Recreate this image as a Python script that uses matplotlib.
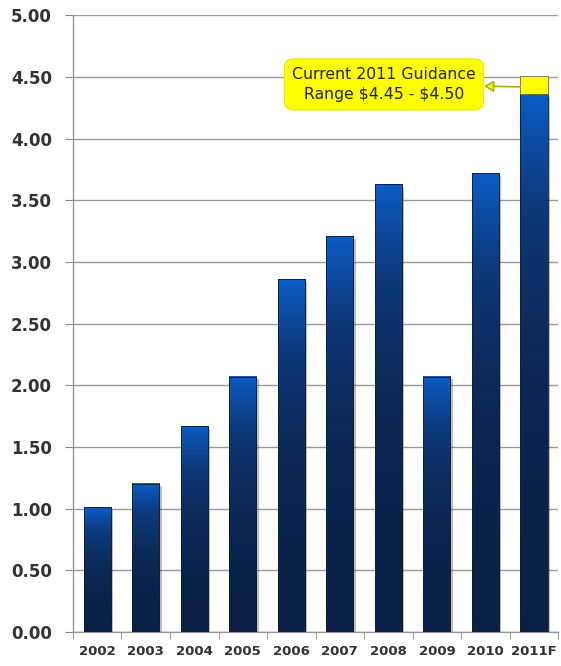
import numpy as np
import matplotlib
matplotlib.use("Agg")
import matplotlib.pyplot as plt
from matplotlib.colors import LinearSegmentedColormap

years = ["2002", "2003", "2004", "2005", "2006", "2007", "2008", "2009", "2010", "2011F"]
eps = [1.01, 1.20, 1.67, 2.07, 2.86, 3.21, 3.63, 2.07, 3.72, 4.36]
guidance_top = 4.51
y_ticks = [0.0, 0.5, 1.0, 1.5, 2.0, 2.5, 3.0, 3.5, 4.0, 4.5, 5.0]
note = "Current 2011 Guidance\nRange \\$4.45 - \\$4.50"

fig = plt.figure(figsize=(5.61, 6.66), dpi=100)
ax = fig.add_axes([0.130, 0.051, 0.865, 0.926])

grad = LinearSegmentedColormap.from_list(
    "bar", ["#0a2046", "#0b2a58", "#0d3a7c", "#0a5cc4"])
g = np.linspace(0, 1, 256).reshape(-1, 1) ** 1.8

w = 0.56
x = np.arange(len(years))
for xi, v in zip(x, eps):
    # drop shadow
    ax.bar(xi + 0.05, v, width=w, bottom=-0.02, color="#000000", alpha=0.25, zorder=2)
    ax.imshow(g, cmap=grad, origin="lower", aspect="auto",
              extent=[xi - w / 2, xi + w / 2, 0, v], zorder=3)
    ax.bar(xi, v, width=w, color="none", edgecolor="#0a1d3c", linewidth=0.6, zorder=4)

ax.bar(x[-1], guidance_top - eps[-1], bottom=eps[-1], width=w, color="#ffff00",
       edgecolor="#666666", linewidth=0.6, zorder=4)

ax.annotate(note, xy=(x[-1] - w / 2, 4.42), xytext=(5.91, 4.44),
            ha="center", va="center", fontsize=11.3, color="#222222",
            linespacing=1.45,
            bbox=dict(boxstyle="round,pad=0.5,rounding_size=0.6", fc="#ffff00",
                      ec="#e8e800", lw=0.8),
            arrowprops=dict(arrowstyle="<|-,head_length=0.5,head_width=0.3",
                            fc="#ffff00", ec="#b0b000", lw=1.2,
                            shrinkA=0, shrinkB=0),
            zorder=6)

ax.set_xlim(-0.5, len(years) - 0.5)
ax.set_ylim(0, 5.0)
ax.set_yticks(y_ticks)
ax.set_yticklabels([f"{t:.2f}" for t in y_ticks], fontsize=12, fontweight="bold",
                   color="#333333")
ax.set_xticks(x)
ax.set_xticklabels(years, fontsize=9.5, fontweight="bold", color="#333333")
ax.set_xticks(np.arange(-0.5, len(years), 1.0), minor=True)
ax.tick_params(axis="x", which="major", length=0, pad=9)
ax.tick_params(axis="x", which="minor", length=5, color="#888888", direction="out")
ax.tick_params(axis="y", length=6, color="#888888", direction="out", pad=9)

ax.grid(axis="y", color="#9a9a9a", linewidth=1.0, zorder=0)
ax.set_axisbelow(True)
for s in ["top", "right"]:
    ax.spines[s].set_visible(False)
for s in ["left", "bottom"]:
    ax.spines[s].set_color("#999999")
    ax.spines[s].set_linewidth(1.0)

fig.savefig("out.png", dpi=100)
